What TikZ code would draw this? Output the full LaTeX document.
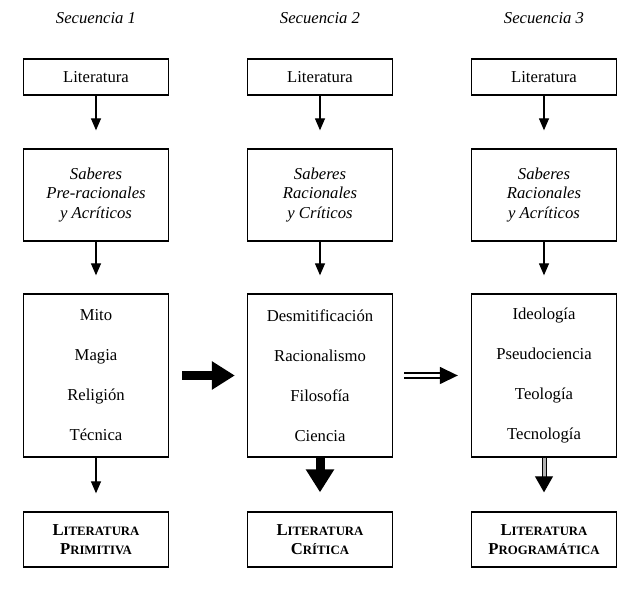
\documentclass[tikz,border=0pt]{standalone}
\usepackage{fontspec}
\setmainfont{Liberation Serif}
\usetikzlibrary{arrows.meta}
\newcommand{\fakesc}[2]{#1{\fontsize{9.6}{14}\selectfont#2}}

\begin{document}
\begin{tikzpicture}[x=0.75pt,y=-0.75pt,
  font=\fontsize{12.5}{14.6}\selectfont,
  box/.style={draw, line width=1pt, minimum width=108.75pt, inner sep=0pt, align=center},
  litbox/.style={box, minimum height=27pt},
  sabbox/.style={box, minimum height=69pt, font=\fontsize{12.5}{14.6}\selectfont\itshape},
  listbox/.style={box, minimum height=122.25pt, font=\fontsize{12.5}{30}\selectfont},
  endbox/.style={box, minimum height=41.25pt, font=\fontsize{12.5}{14.3}\selectfont\bfseries},
  head/.style={font=\fontsize{12.5}{14.6}\selectfont\itshape},
  thinarrow/.style={line width=1pt, -{Triangle[width=7.5pt,length=9pt]}, shorten >=13.5pt},
  fatarrow/.style={line width=6.75pt, -{Triangle[width=20.25pt,length=17.25pt]}},
  dblarrow/.style={line width=1.1pt, double, double distance=2.6pt, -{Triangle[width=12.75pt,length=13.5pt]}},
  grayarrow/.style={line width=0.75pt, double=gray!60, double distance=2.25pt, -{Triangle[width=13.5pt,length=12pt]}}]
  \useasboundingbox (0,0) rectangle (640,591);

  % headings
  \node[head] (s1) at (96,18) {Secuencia 1};
  \node[head] (s2) at (320,18) {Secuencia 2};
  \node[head] (s3) at (544,18) {Secuencia 3};

  % first row
  \node[litbox] (lit1) at (96,77) {Literatura};
  \node[litbox] (lit2) at (320,77) {Literatura};
  \node[litbox] (lit3) at (544,77) {Literatura};

  % second row
  \node[sabbox] (sab1) at (96,195) {Saberes\\Pre-racionales\\y Acríticos};
  \node[sabbox] (sab2) at (320,195) {Saberes\\Racionales\\y Críticos};
  \node[sabbox] (sab3) at (544,195) {Saberes\\Racionales\\y Acríticos};

  % third row
  \node[listbox] (list1) at (96,375.5) {Mito\\Magia\\Religión\\Técnica};
  \node[listbox] (list2) at (320,375.5) {Desmitificación\\Racionalismo\\Filosofía\\Ciencia};
  \node[listbox] (list3) at (544,375.5) {Ideología\\Pseudociencia\\Teología\\Tecnología};

  % last row
  \node[endbox] (end1) at (96,539.5) {\fakesc{L}{ITERATURA}\\\fakesc{P}{RIMITIVA}};
  \node[endbox] (end2) at (320,539.5) {\fakesc{L}{ITERATURA}\\\fakesc{C}{RÍTICA}};
  \node[endbox] (end3) at (544,539.5) {\fakesc{L}{ITERATURA}\\\fakesc{P}{ROGRAMÁTICA}};

  \draw[thinarrow] (lit1) -- (sab1);
  \draw[thinarrow] (lit2) -- (sab2);
  \draw[thinarrow] (lit3) -- (sab3);
  \draw[thinarrow] (sab1) -- (list1);
  \draw[thinarrow] (sab2) -- (list2);
  \draw[thinarrow] (sab3) -- (list3);
  \draw[thinarrow] (list1) -- (end1);
  \draw[fatarrow, shorten >=14.25pt] (list2) -- (end2);
  \draw[grayarrow, shorten >=14.25pt] (list3) -- (end3);

  \draw[fatarrow, shorten <=9.75pt, shorten >=9pt] (list1) -- (list2);
  \draw[dblarrow, shorten <=8.25pt, shorten >=9.75pt] (list2) -- (list3);
\end{tikzpicture}
\end{document}
